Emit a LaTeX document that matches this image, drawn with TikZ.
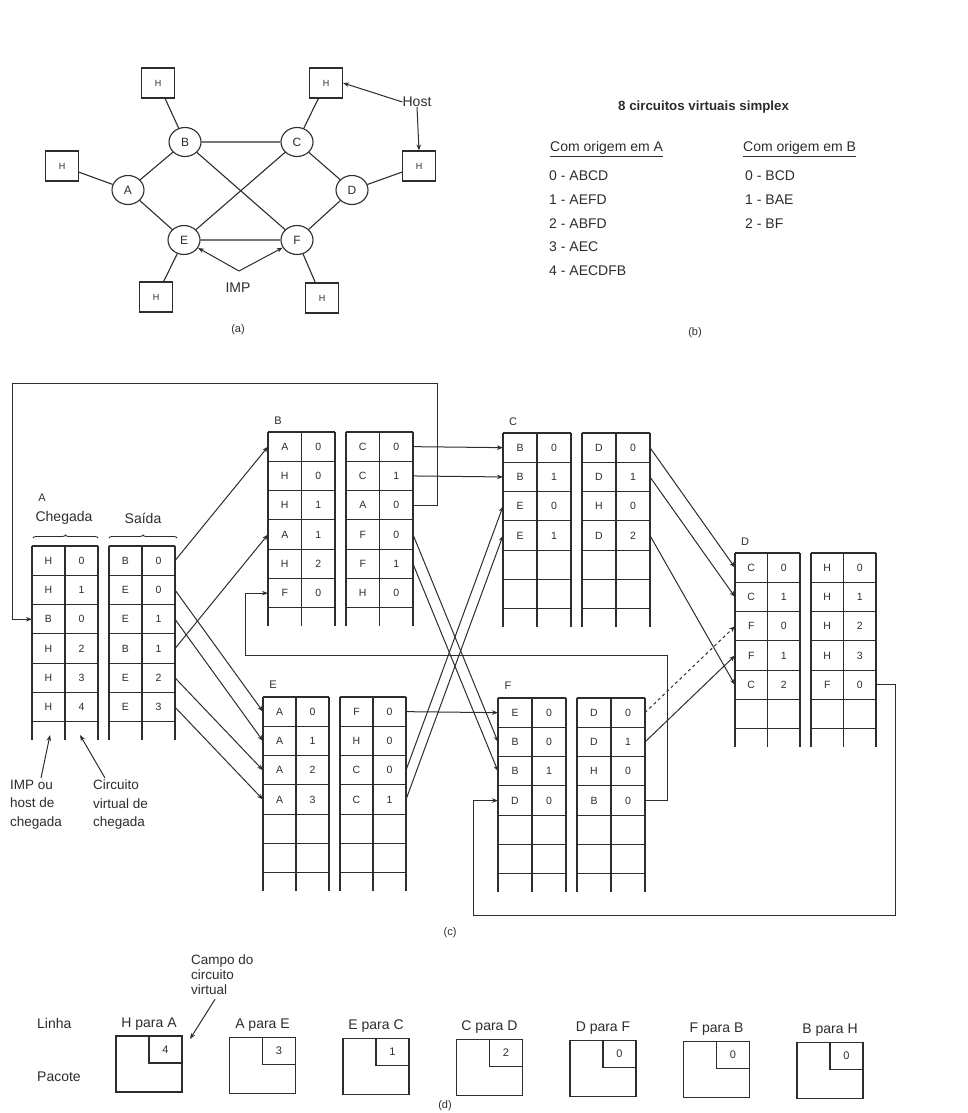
\documentclass[tikz,border=0pt]{standalone}
\usepackage{fontspec}
\setmainfont{Liberation Sans}
\usetikzlibrary{shapes.geometric,arrows.meta,decorations.pathreplacing}
\definecolor{ink}{RGB}{45,45,45}
\newcommand{\vctable}[6]{%
  \begin{scope}[shift={(#2,#3)}]
    \pgfmathsetmacro{\cw}{#4}
    \foreach \k in {0,...,6}{
      \draw[tbl] (0,{\k*29.3}) -- ({2*\cw},{\k*29.3});
      \draw[tbl] ({2*\cw+11},{\k*29.3}) -- ({4*\cw+11},{\k*29.3});
    }
    \foreach \xx in {0,1,2}{
      \draw[tbl] ({\xx*\cw},0) -- ({\xx*\cw},194);
      \draw[tbl] ({\xx*\cw+2*\cw+11},0) -- ({\xx*\cw+2*\cw+11},194);
    }
    \foreach \i in {1,...,6}{
      \coordinate (#1-in\i) at (0,{(\i-0.5)*29.3});
      \coordinate (#1-out\i) at ({4*\cw+11},{(\i-0.5)*29.3});
    }
    \foreach \ca/\cb/\cc/\cd [count=\i] in {#5}{
      \node[cell] (#1-a\i) at ({0.5*\cw},{(\i-0.5)*29.3}) {\ca};
      \node[cell] (#1-b\i) at ({1.5*\cw},{(\i-0.5)*29.3}) {\cb};
      \node[cell] (#1-c\i) at ({2.5*\cw+11},{(\i-0.5)*29.3}) {\cc};
      \node[cell] (#1-d\i) at ({3.5*\cw+11},{(\i-0.5)*29.3}) {\cd};
    }
    \node[thead] (#1-name) at (10,#6) {#1};
  \end{scope}}
\begin{document}
\begin{tikzpicture}[x=1pt,y=-1pt,
  every node/.style={text=ink},
  tbl/.style={draw=ink,line width=1.1pt},
  cell/.style={font=\fontsize{10.5}{12}\selectfont,inner sep=0pt},
  thead/.style={font=\fontsize{11}{12}\selectfont,inner sep=0pt},
  conn/.style={draw=ink,line width=1pt,-{Stealth[length=6pt,width=4.5pt]}},
  link/.style={draw=ink,line width=1.1pt},
  imp/.style={ellipse,draw=ink,line width=1.1pt,minimum width=32pt,minimum height=29pt,inner sep=0pt,font=\fontsize{12}{14}\selectfont},
  hostbox/.style={rectangle,draw=ink,line width=1.1pt,minimum width=33pt,minimum height=30pt,inner sep=0pt,font=\fontsize{9}{10}\selectfont},
  lbl/.style={font=\fontsize{14}{16}\selectfont,inner sep=0pt},
  figcap/.style={font=\fontsize{11}{12}\selectfont,inner sep=0pt},
  pkt/.style={rectangle,draw=ink,line width=1.1pt,minimum width=66pt,minimum height=56pt,inner sep=0pt,outer sep=0pt},
  pktin/.style={rectangle,draw=ink,line width=1.1pt,minimum width=33pt,minimum height=27pt,inner sep=0pt,outer sep=0pt,anchor=north east,font=\fontsize{11}{12}\selectfont},
]
\useasboundingbox (0,0) rectangle (968,1113);
\fill[white] (0,0) rectangle (968,1113);

% ---------- (a) ----------
\node[hostbox] (hB) at (158,83) {H};
\node[hostbox] (hC) at (326,83) {H};
\node[hostbox] (hA) at (62,166) {H};
\node[hostbox] (hD) at (419,166) {H};
\node[hostbox] (hE) at (156,297) {H};
\node[hostbox] (hF) at (322,298) {H};
\node[imp] (nA) at (128,190) {A};
\node[imp] (nB) at (185,142) {B};
\node[imp] (nC) at (297,142) {C};
\node[imp] (nD) at (352,190) {D};
\node[imp] (nE) at (184,240) {E};
\node[imp] (nF) at (297,240) {F};
\draw[link] (hA)--(nA) (hB)--(nB) (hC)--(nC) (hD)--(nD) (hE)--(nE) (hF)--(nF)
  (nA)--(nB) (nA)--(nE) (nB)--(nC) (nB)--(nF) (nC)--(nE) (nC)--(nD) (nD)--(nF) (nE)--(nF);
\node[lbl] (host) at (417,102) {Host};
\draw[conn] (host.west) -- (hC.east);
\draw[conn] (host.south) -- (hD.north);
\node[lbl] (implbl) at (238,288) {IMP};
\coordinate (impV) at (239,271);
\draw[conn] (impV) -- (nE);
\draw[conn] (impV) -- (nF);
\node[figcap] (capa) at (238,330) {(a)};

% ---------- (b) ----------
\node[anchor=west,inner sep=0pt,font=\bfseries\fontsize{13.3}{15}\selectfont] (btitle) at (618,107) {8 circuitos virtuais simplex};
\node[lbl,anchor=west] (bhA) at (550,149) {\underline{Com origem em A}};
\node[lbl,anchor=west] (bhB) at (743,149) {\underline{Com origem em B}};
\foreach \t [count=\j] in {0 - ABCD,1 - AEFD,2 - ABFD,3 - AEC,4 - AECDFB}{
  \node[lbl,anchor=west] (bA\j) at (549,{176+23.7*(\j-1)}) {\t};
}
\foreach \t [count=\j] in {0 - BCD,1 - BAE,2 - BF}{
  \node[lbl,anchor=west] (bB\j) at (745,{176+23.7*(\j-1)}) {\t};
}
\node[figcap] (capb) at (695,333) {(b)};

% ---------- (c) tables ----------
\vctable{A}{32}{546}{33}{H/0/B/0,H/1/E/0,B/0/E/1,H/2/B/1,H/3/E/2,H/4/E/3}{-48}
\vctable{B}{268}{432}{33.5}{A/0/C/0,H/0/C/1,H/1/A/0,A/1/F/0,H/2/F/1,F/0/H/0}{-11}
\vctable{C}{503}{433}{34}{B/0/D/0,B/1/D/1,E/0/H/0,E/1/D/2}{-11}
\vctable{D}{735}{553}{32.5}{C/0/H/0,C/1/H/1,F/0/H/2,F/1/H/3,C/2/F/0}{-11}
\vctable{E}{263}{697}{33}{A/0/F/0,A/1/H/0,A/2/C/0,A/3/C/1}{-12}
\vctable{F}{498}{698}{34}{E/0/D/0,B/0/D/1,B/1/H/0,D/0/B/0}{-12}

\node[lbl] (cheg) at (64,518) {Chegada};
\node[lbl] (said) at (143,518) {Saída};
\draw[link,line width=0.9pt,decorate,decoration={brace,amplitude=3pt}] (33,538) -- (98,538);
\draw[link,line width=0.9pt,decorate,decoration={brace,amplitude=3pt}] (109,538) -- (177,538);

% connectors
\draw[conn] (A-out1) -- (B-in1);
\draw[conn] (A-out2) -- (E-in1);
\draw[conn] (A-out3) -- (E-in2);
\draw[conn] (A-out4) -- (B-in4);
\draw[conn] (A-out5) -- (E-in3);
\draw[conn] (A-out6) -- (E-in4);
\draw[conn] (B-out1) -- (C-in1);
\draw[conn] (B-out2) -- (C-in2);
\coordinate (rb1) at (437,383);
\coordinate (rb2) at (12,383);
\draw[conn] (B-out3) -| (rb1) -- (rb2) |- (A-in3);
\draw[conn] (B-out4) -- (F-in2);
\draw[conn] (B-out5) -- (F-in3);
\draw[conn] (C-out1) -- (D-in1);
\draw[conn] (C-out2) -- (D-in2);
\draw[conn] (C-out4) -- (D-in5);
\coordinate (rd1) at (895,915);
\coordinate (rd2) at (473,915);
\draw[conn] (D-out5) -| (rd1) -- (rd2) |- (F-in4);
\draw[conn] (E-out1) -- (F-in1);
\draw[conn] (E-out3) -- (C-in3);
\draw[conn] (E-out4) -- (C-in4);
\draw[conn,dashed] (F-out1) -- (D-in3);
\draw[conn] (F-out2) -- (D-in4);
\coordinate (rf1) at (667,655);
\coordinate (rf2) at (245,655);
\draw[conn] (F-out4) -| (rf1) -- (rf2) |- (B-in6);

% labels under A
\node[anchor=north west,align=left,inner sep=0pt,font=\fontsize{13.5}{18.5}\selectfont] (lblImp) at (10,780) {IMP ou\\host de\\chegada};
\node[anchor=north west,align=left,inner sep=0pt,font=\fontsize{13.5}{18.5}\selectfont] (lblCirc) at (93,780) {Circuito\\virtual de\\chegada};
\coordinate (tipImp) at (50,735);
\coordinate (tipCirc) at (80,735);
\draw[conn] ([xshift=31pt,yshift=2pt]lblImp.north west) -- (tipImp);
\draw[conn] ([xshift=12pt,yshift=2pt]lblCirc.north west) -- (tipCirc);
\node[figcap] (capc) at (450,933) {(c)};

% ---------- (d) ----------
\node[lbl,anchor=west] (linha) at (37,1023) {Linha};
\node[lbl,anchor=west] (pacote) at (37,1077) {Pacote};
\foreach \lab/\num [count=\k] in {H para A/4,A para E/3,E para C/1,C para D/2,D para F/0,F para B/0,B para H/0}{
  \node[pkt] (pk\k) at ({149+113.5*(\k-1)},{1064+1.1*(\k-1)}) {};
  \node[pktin] (pv\k) at (pk\k.north east) {\num};
  \node[lbl] (pl\k) at ({149+113.5*(\k-1)},{1024+1*(\k-1)}) {\lab};
}
\node[anchor=north west,align=left,inner sep=0pt,font=\fontsize{13.5}{15}\selectfont] (lblCampo) at (191,955) {Campo do\\circuito\\virtual};
\coordinate (tipCampo) at (190,1039);
\draw[conn] ([xshift=24pt,yshift=-4pt]lblCampo.south west) -- (tipCampo);
\node[figcap] (capd) at (445,1106) {(d)};
\end{tikzpicture}
\end{document}
